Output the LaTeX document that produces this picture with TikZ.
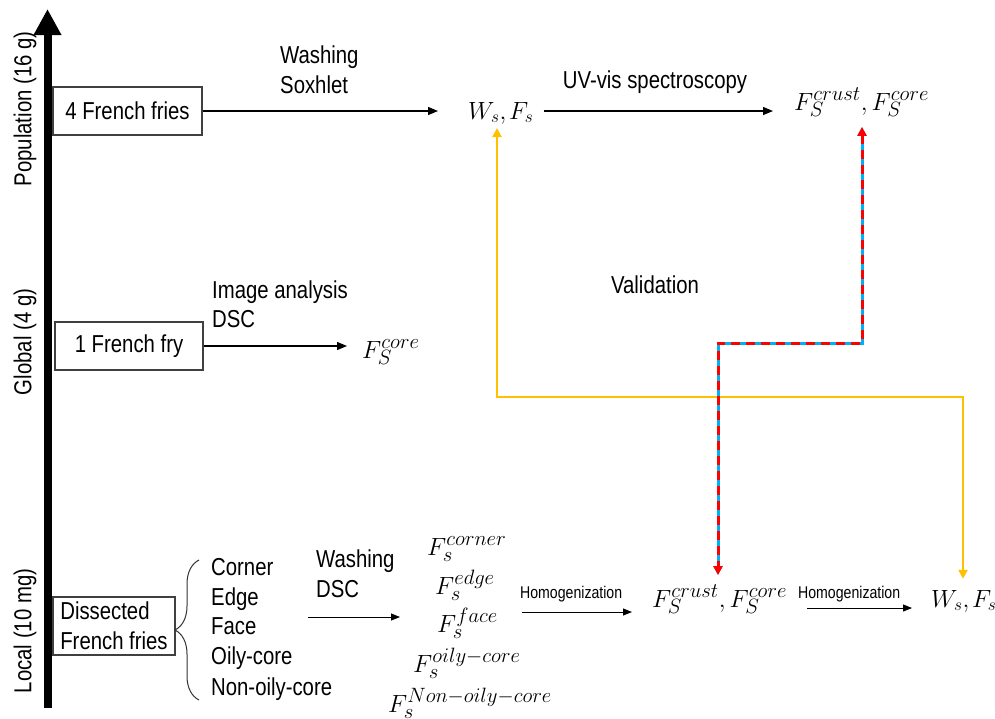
\documentclass[tikz,border=0pt]{standalone}
\usepackage[no-math]{fontspec}
\setmainfont{Liberation Sans}[FakeStretch=0.83]
\usetikzlibrary{arrows.meta,decorations.pathreplacing,calc}
\DeclareMathSizes{26}{26}{20}{14}
\DeclareMathSizes{24}{24}{18}{13}
\DeclareMathSizes{23}{23}{20}{14}
\definecolor{amber}{HTML}{FFC000}
\definecolor{skyc}{HTML}{00B0F0}
\definecolor{redc}{HTML}{FF0000}
\begin{document}
\begin{tikzpicture}[x=1pt,y=-1pt,
  lbl/.style={font=\fontsize{24.5}{30}\selectfont, inner sep=0pt},
  slbl/.style={font=\fontsize{17}{20}\selectfont, inner sep=0pt},
  boxnode/.style={draw=black!75, line width=1.2pt, font=\fontsize{24.5}{30}\selectfont, inner sep=0pt, align=left},
  mth/.style={inner sep=0pt, font=\fontsize{26}{30}\selectfont, anchor=base west},
  wmth/.style={inner sep=0pt, font=\fontsize{24}{28}\selectfont, anchor=base west},
  cmth/.style={inner sep=0pt, font=\fontsize{23}{28}\selectfont, anchor=base west},
  arr/.style={draw=black, line width=1.3pt, -{Triangle[width=8pt,length=10pt]}},
  thinarr/.style={draw=black, line width=1pt, -{Triangle[width=7pt,length=9pt]}},
  orangeln/.style={draw=amber, line width=2.5pt, {Triangle[width=9pt,length=9pt]}-{Triangle[width=9pt,length=9pt]}},
  dashln/.style={draw=skyc, line width=3pt, {Triangle[width=9pt,length=9pt]}-{Triangle[width=9pt,length=9pt]},
     postaction={draw=redc, dash pattern=on 9pt off 6pt, {Triangle[width=9pt,length=9pt]}-{Triangle[width=9pt,length=9pt]}}}
]
\useasboundingbox (0,0) rectangle (995,718);
\fill[white] (0,0) rectangle (995,718);

% axis
\coordinate (axB) at (47.5,708);
\coordinate (axT) at (47.5,9);
\draw[line width=8pt, -{Triangle[width=26pt,length=26pt]}] (axB) -- (axT);
\node[lbl, rotate=90] (ax1) at (25,109) {Population (16 g)};
\node[lbl, rotate=90] (ax2) at (25,342) {Global (4 g)};
\node[lbl, rotate=90] (ax3) at (25,631) {Local (10 mg)};

% boxes
\node[boxnode, minimum width=149pt, minimum height=48pt] (box1) at (127.5,111) {4 French fries};
\node[boxnode, minimum width=148pt, minimum height=48pt] (box2) at (129,346) {1 French fry};
\node[boxnode, minimum width=122pt, minimum height=58pt] (box3) at (114,626) {Dissected\\French fries};

% top row
\node[lbl, anchor=base west] (wash1) at (280,63) {Washing};
\node[lbl, anchor=base west] (soxh) at (280,93) {Soxhlet};
\node[wmth] (ws1) at (468,119) {$W_s,\!\mkern2mu F_s$};
\node[lbl] (uv) at (655,82) {UV-vis spectroscopy};
\node[mth] (topF) at (794,110) {$F_S^{crust}, F_S^{core}$};
\draw[arr, shorten >=30pt] (box1.east) -- (ws1.west |- box1.east);
\draw[arr, shorten <=10pt, shorten >=21pt] (ws1.east |- box1.east) -- (topF.west |- box1.east);

% global row
\node[lbl, anchor=base west] (img) at (212,298) {Image analysis};
\node[lbl, anchor=base west] (dsc1) at (212,327) {DSC};
\node[mth] (gF) at (362,358) {$F_S^{core}$};
\draw[arr, shorten >=15pt] (box2.east) -- (gF.west |- box2.east);

\node[lbl] (valid) at (655,285) {Validation};

% local row
\draw[decorate, decoration={brace, amplitude=24pt}, line width=1pt, black!80] (199,700) -- (199,560);
\node[lbl, anchor=base west] (li1) at (211,575) {Corner};
\node[lbl, anchor=base west] (li2) at (211,605) {Edge};
\node[lbl, anchor=base west] (li3) at (211,634) {Face};
\node[lbl, anchor=base west] (li4) at (211,664) {Oily-core};
\node[lbl, anchor=base west] (li5) at (211,695) {Non-oily-core};

\node[lbl, anchor=base west] (wash2) at (316,567) {Washing};
\node[lbl, anchor=base west] (dsc2) at (316,597) {DSC};

\node[cmth] (c1) at (427,555) {$F_s^{corner}$};
\node[cmth] (c2) at (435,594) {$F_s^{edge}$};
\node[cmth] (c3) at (437,632) {$F_s^{face}$};
\node[cmth] (c4) at (413,672) {$F_s^{oily-core}$};
\node[cmth] (c5) at (388,712) {$F_s^{Non-oily-core}$};

\coordinate (w1) at (308,617);
\draw[thinarr, shorten >=37pt] (w1) -- (c3.west |- w1);

\node[slbl, anchor=base west] (hom1) at (520,598) {Homogenization};
\node[mth] (botF) at (652,607) {$F_S^{crust}, F_S^{core}$};
\coordinate (h1) at (522,612);
\draw[thinarr, shorten >=20pt] (h1) -- (botF.west |- h1);

\node[slbl, anchor=base west] (hom2) at (798,598) {Homogenization};
\node[wmth] (botW) at (931,607) {$W_s,\!\mkern2mu F_s$};
\coordinate (h2) at (807,608);
\draw[thinarr, shorten >=19pt] (h2) -- (botW.west |- h2);

% validation lines
\coordinate (o1) at (497,397);
\coordinate (o2) at (963,397);
\draw[orangeln, shorten <=4pt, shorten >=11pt] (ws1.south -| o1) -- (o1) -- (o2) -- (botW.north -| o2);

\coordinate (d1) at (862,343);
\coordinate (d2) at (718,343);
\draw[dashln, shorten <=10pt, shorten >=10pt] (topF.south -| d1) -- (d1) -- (d2) -- (botF.north -| d2);
\end{tikzpicture}
\end{document}
